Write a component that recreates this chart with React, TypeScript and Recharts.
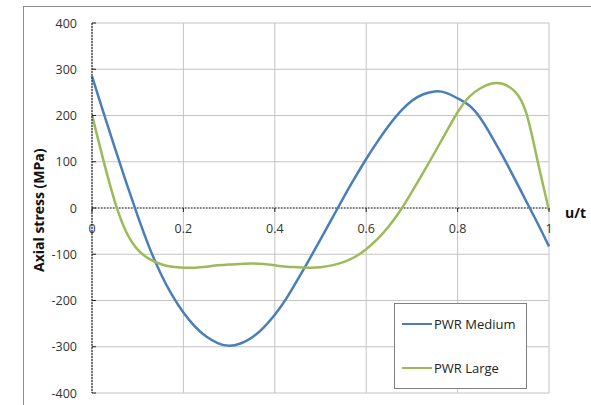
import React from 'react';
import { LineChart, Line, XAxis, YAxis, CartesianGrid, ReferenceLine } from 'recharts';

const uValues = [
  0, 0.025, 0.05, 0.075, 0.1, 0.125, 0.15, 0.175, 0.2, 0.225,
  0.25, 0.275, 0.3, 0.325, 0.35, 0.375, 0.4, 0.425, 0.45, 0.475,
  0.5, 0.525, 0.55, 0.575, 0.6, 0.625, 0.65, 0.675, 0.7, 0.725,
  0.75, 0.775, 0.8, 0.825, 0.85, 0.875, 0.9, 0.925, 0.95, 0.975, 1,
];

const pwrMedium = [
  285, 207, 130, 55, -17, -84, -141, -188, -226, -256,
  -278, -292, -298, -293, -280, -259, -231, -196, -155, -112,
  -68, -23, 22, 65, 106, 144, 179, 209, 232, 246,
  252, 249, 237, 222, 194, 154, 110, 63, 15, -33, -83,
];

const pwrLarge = [
  201, 103, 14, -52, -90, -110, -121, -127, -129, -129,
  -127, -124, -122, -121, -120, -121, -124, -127, -128, -129,
  -128, -124, -117, -106, -89, -67, -39, -5, 35, 77,
  120, 164, 207, 240, 259, 269, 268, 252, 206, 102, -5,
];

const xTicks = [0, 0.2, 0.4, 0.6, 0.8, 1];
const yTicks = [-400, -300, -200, -100, 0, 100, 200, 300, 400];

const seriesNames = ['PWR Medium', 'PWR Large'];
const seriesColors = ['#4A7EBB', '#9BBB59'];

const data = uValues.map((u, i) => ({ u, medium: pwrMedium[i], large: pwrLarge[i] }));

const W = 591;
const H = 405;
const MARGIN = { top: 23, right: 42, bottom: 11, left: 32 };
const X_AXIS_H = 1;
const PLOT_H = H - MARGIN.top - MARGIN.bottom - X_AXIS_H;
const ZERO_Y = MARGIN.top + PLOT_H / 2;
const FONT = '"Open Sans", sans-serif';

const XTick = (props: any) => {
  const { x, payload } = props;
  return (
    <g>
      <line x1={x} x2={x} y1={ZERO_Y} y2={ZERO_Y + 4} stroke="#222" strokeWidth={1} />
      <text x={x} y={ZERO_Y + 25} textAnchor="middle" fontFamily={FONT} fontSize={12.5} fill="#333">
        {payload.value}
      </text>
    </g>
  );
};

const YTick = (props: any) => {
  const { x, y, payload } = props;
  return (
    <g>
      <line x1={x} x2={x + 4} y1={y} y2={y} stroke="#222" strokeWidth={1} />
      <text x={x - 15} y={y + 4.5} textAnchor="end" fontFamily={FONT} fontSize={12.5} fill="#333">
        {payload.value}
      </text>
    </g>
  );
};

const LegendBox = () => (
  <div
    style={{
      position: 'absolute',
      left: 394,
      top: 303,
      width: 133,
      height: 86,
      boxSizing: 'border-box',
      border: '1px solid #7f7f7f',
      background: '#fff',
      fontFamily: FONT,
      fontSize: 13,
      color: '#222',
    }}
  >
    {seriesNames.map((name, i) => (
      <div
        key={name}
        style={{
          position: 'absolute',
          left: 7,
          top: 11 + i * 44,
          display: 'flex',
          alignItems: 'center',
          whiteSpace: 'nowrap',
        }}
      >
        <span style={{ display: 'inline-block', width: 30, height: 2.5, background: seriesColors[i], marginRight: 2 }} />
        <span>{name}</span>
      </div>
    ))}
  </div>
);

export default function App() {
  return (
    <div style={{ position: 'absolute', left: 0, top: 0, width: W, height: H, overflow: 'hidden', background: '#fff' }}>
      <div
        style={{
          position: 'absolute',
          left: 23,
          top: 6,
          width: 700,
          height: 500,
          borderTop: '1px solid #8c8c8c',
          borderLeft: '1px solid #8c8c8c',
        }}
      />
      <div style={{ position: 'absolute', left: 0, top: 0 }}>
        <LineChart width={W} height={H} data={data} margin={MARGIN}>
          <CartesianGrid stroke="#c4c4c4" strokeWidth={1} verticalValues={xTicks} horizontalValues={yTicks} />
          <XAxis
            dataKey="u"
            type="number"
            domain={[0, 1]}
            ticks={xTicks}
            height={X_AXIS_H}
            tickSize={0}
            tickMargin={0}
            axisLine={false}
            tickLine={false}
            tick={XTick}
            interval={0}
          />
          <YAxis
            type="number"
            domain={[-400, 400]}
            ticks={yTicks}
            width={60}
            tickSize={0}
            tickMargin={0}
            axisLine={{ stroke: '#333', strokeWidth: 1.2, strokeDasharray: '2 1' }}
            tickLine={false}
            tick={YTick}
            interval={0}
            label={{
              value: 'Axial stress (MPa)',
              angle: -90,
              position: 'insideLeft',
              dx: 2,
              dy: 64,
              style: { fontFamily: FONT, fontSize: 14, fontWeight: 'bold', fill: '#111' },
            }}
          />
          <ReferenceLine
            y={0}
            stroke="#222"
            strokeWidth={1.2}
            strokeDasharray="1.5 1.5"
            label={{
              value: 'u/t',
              position: 'right',
              offset: 16,
              dy: 5,
              style: { fontFamily: FONT, fontSize: 14, fontWeight: 'bold', fill: '#111' },
            }}
          />
          <Line
            type="natural"
            dataKey="medium"
            name={seriesNames[0]}
            stroke={seriesColors[0]}
            strokeWidth={2.5}
            dot={false}
            isAnimationActive={false}
          />
          <Line
            type="natural"
            dataKey="large"
            name={seriesNames[1]}
            stroke={seriesColors[1]}
            strokeWidth={2.5}
            dot={false}
            isAnimationActive={false}
          />
        </LineChart>
      </div>
      <LegendBox />
    </div>
  );
}
